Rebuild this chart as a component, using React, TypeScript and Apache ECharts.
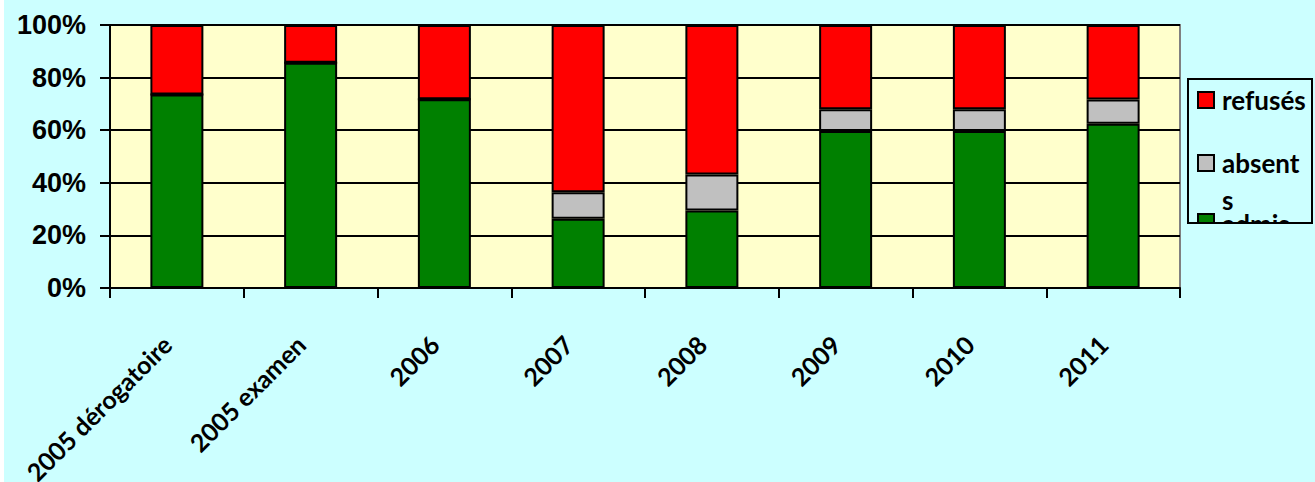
import React, { useEffect, useRef } from "react";
import * as echarts from "echarts";

const categories = ["2005 dérogatoire", "2005 examen", "2006", "2007", "2008", "2009", "2010", "2011"];
const admis = [73.6, 85.6, 71.8, 26.3, 29.5, 59.7, 59.7, 62.5];
const absents = [0, 0, 0, 10.1, 13.7, 8.3, 8.3, 9.2];
const refuses = [26.4, 14.4, 28.2, 63.6, 56.8, 32.0, 32.0, 28.3];
const yTicks = [0, 20, 40, 60, 80, 100];

const BG = "#CCFFFF";
const LABEL_FONT = "Lato, 'Open Sans', sans-serif";

export default function App() {
  const ref = useRef<HTMLDivElement>(null);
  useEffect(() => {
    document.body.style.margin = "0";
    if (!ref.current) return;
    const chart = echarts.init(ref.current, undefined, { renderer: "svg" });
    const barBase = {
      type: "bar",
      stack: "total",
      barWidth: 53,
      itemStyle: { borderColor: "#000", borderWidth: 2 },
    };
    const legendFont = `bold 26px ${LABEL_FONT}`;
    const option = {
      animation: false,
      backgroundColor: BG,
      grid: {
        left: 110,
        right: 135,
        top: 25,
        bottom: 194,
        containLabel: false,
        outerBoundsMode: "none",
        show: true,
        backgroundColor: "#FFFFCC",
        borderColor: "#808080",
        borderWidth: 2,
      },
      xAxis: {
        type: "category",
        data: categories,
        axisLine: { show: true, lineStyle: { color: "#000", width: 2 } },
        axisTick: { show: true, length: 10, lineStyle: { color: "#000", width: 2 } },
        axisLabel: {
          rotate: 45,
          interval: 0,
          margin: 42,
          padding: [0, 14, 0, 0],
          color: "#000",
          fontFamily: LABEL_FONT,
          fontWeight: "bold",
          fontSize: 25,
        },
      },
      yAxis: {
        type: "value",
        min: yTicks[0],
        max: yTicks[yTicks.length - 1],
        interval: 20,
        axisLine: { show: true, lineStyle: { color: "#000", width: 2 } },
        axisTick: { show: true, length: 10, lineStyle: { color: "#000", width: 2 } },
        splitLine: { show: true, lineStyle: { color: "#000", width: 2 } },
        axisLabel: {
          formatter: "{value}%",
          margin: 24,
          color: "#000",
          fontFamily: "'Liberation Sans', Arial, sans-serif",
          fontWeight: "bold",
          fontSize: 27,
        },
      },
      series: [
        { ...barBase, name: "admis", data: admis, itemStyle: { ...barBase.itemStyle, color: "#008000" } },
        { ...barBase, name: "absents", data: absents, itemStyle: { ...barBase.itemStyle, color: "#C0C0C0" } },
        { ...barBase, name: "refusés", data: refuses, itemStyle: { ...barBase.itemStyle, color: "#FF0000" } },
      ],
      graphic: [
        { type: "rect", z: 100, shape: { x: 0, y: 0, width: 4, height: 482 }, style: { fill: "#FFFFFF" } },
        { type: "rect", z: 100, shape: { x: 1198, y: 92, width: 16, height: 16 }, style: { fill: "#FF0000", stroke: "#000", lineWidth: 2 } },
        { type: "text", z: 100, x: 1222, y: 100, style: { text: "refusés", font: legendFont, fill: "#000", verticalAlign: "middle" } },
        { type: "rect", z: 100, shape: { x: 1198, y: 155, width: 16, height: 16 }, style: { fill: "#C0C0C0", stroke: "#000", lineWidth: 2 } },
        { type: "text", z: 100, x: 1222, y: 163, style: { text: "absent", font: legendFont, fill: "#000", verticalAlign: "middle" } },
        { type: "text", z: 100, x: 1222, y: 200, style: { text: "s", font: legendFont, fill: "#000", verticalAlign: "middle" } },
        { type: "rect", z: 100, shape: { x: 1198, y: 214, width: 16, height: 16 }, style: { fill: "#008000", stroke: "#000", lineWidth: 2 } },
        { type: "text", z: 100, x: 1222, y: 224, style: { text: "admis", font: legendFont, fill: "#000", verticalAlign: "middle" } },
        { type: "rect", z: 101, shape: { x: 1186, y: 224, width: 130, height: 30 }, style: { fill: BG } },
        { type: "rect", z: 102, shape: { x: 1188, y: 79, width: 124, height: 144 }, style: { fill: "none", stroke: "#000", lineWidth: 2 } },
      ],
    };
    chart.setOption(option as any);
    return () => chart.dispose();
  }, []);
  return <div ref={ref} style={{ width: 1315, height: 482 }} />;
}
